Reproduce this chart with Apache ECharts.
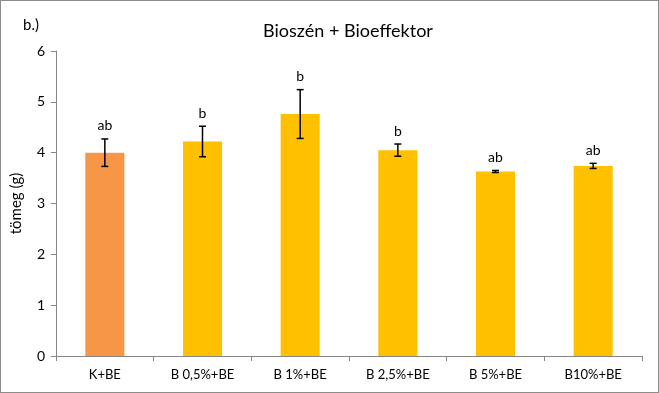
<!DOCTYPE html>
<html><head><meta charset="utf-8">
<script src="https://cdn.jsdelivr.net/npm/echarts@6/dist/echarts.min.js"></script>
<style>html,body{margin:0;padding:0;background:#fff}#c{width:659px;height:393px;box-sizing:border-box;border:1px solid #8c8c8c}</style>
</head><body><div id="c"></div>
<script>
const categories = ['K+BE','B 0,5%+BE','B 1%+BE','B 2,5%+BE','B 5%+BE','B10%+BE'];
const values = [4.00, 4.22, 4.76, 4.05, 3.63, 3.74];
const errors = [0.27, 0.30, 0.48, 0.12, 0.02, 0.05];
const letters = ['ab','b','b','b','ab','ab'];
const colors = ['#F79646','#FFC000','#FFC000','#FFC000','#FFC000','#FFC000'];
const yTicks = [0,1,2,3,4,5,6];

const font = 'Lato, "Open Sans", sans-serif';
const chart = echarts.init(document.getElementById('c'));
chart.setOption({
  animation:false,
  title:[{text:'Bioszén + Bioeffektor',left:342,top:16,textAlign:'center',textStyle:{fontFamily:font,fontSize:18,fontWeight:'normal',color:'#000'}},
         {text:'b.)',left:17,top:12,textStyle:{fontFamily:font,fontSize:15,fontWeight:'normal',color:'#000'}}],
  grid:{left:55,right:16,top:50,bottom:36},
  xAxis:{type:'category',data:categories,
    axisLine:{lineStyle:{color:'#868686'}},
    axisTick:{show:true,inside:false,length:5,lineStyle:{color:'#868686'},alignWithLabel:false},
    axisLabel:{fontFamily:font,fontSize:13,color:'#000',margin:12}},
  yAxis:{type:'value',min:0,max:6,interval:1,
    name:'tömeg (g)',nameLocation:'middle',nameGap:32,nameRotate:90,
    nameTextStyle:{fontFamily:font,fontSize:15,color:'#000'},
    axisLine:{show:true,lineStyle:{color:'#868686'}},
    axisTick:{show:true,length:5,lineStyle:{color:'#868686'}},
    splitLine:{show:false},
    axisLabel:{fontFamily:font,fontSize:14,color:'#000',margin:11,
      formatter:v=>yTicks.includes(v)?String(v):''}},
  series:[
    {type:'bar',barWidth:'40%',z:2,
     data:values.map((v,i)=>({value:v,itemStyle:{color:colors[i]}}))},
    {type:'custom',z:10,clip:false,
     data:values.map((v,i)=>[i,v,errors[i]]),
     renderItem:function(params,api){
       const i=api.value(0), v=api.value(1), e=api.value(2);
       const top=api.coord([i,v+e]), bot=api.coord([i,v-e]);
       const x=top[0], w=3.5;
       const st={stroke:'#000',lineWidth:1.5};
       return {type:'group',children:[
         {type:'line',z2:10,shape:{x1:x,y1:top[1],x2:x,y2:bot[1]},style:st},
         {type:'line',z2:10,shape:{x1:x-w,y1:top[1],x2:x+w,y2:top[1]},style:st},
         {type:'line',z2:10,shape:{x1:x-w,y1:bot[1],x2:x+w,y2:bot[1]},style:st},
         {type:'text',z2:10,style:{text:letters[params.dataIndex],x:x,y:top[1]-6,textAlign:'center',textVerticalAlign:'bottom',
           font:'14px '+font,fill:'#000'}}
       ]};
     }}
  ]
});
</script></body></html>
